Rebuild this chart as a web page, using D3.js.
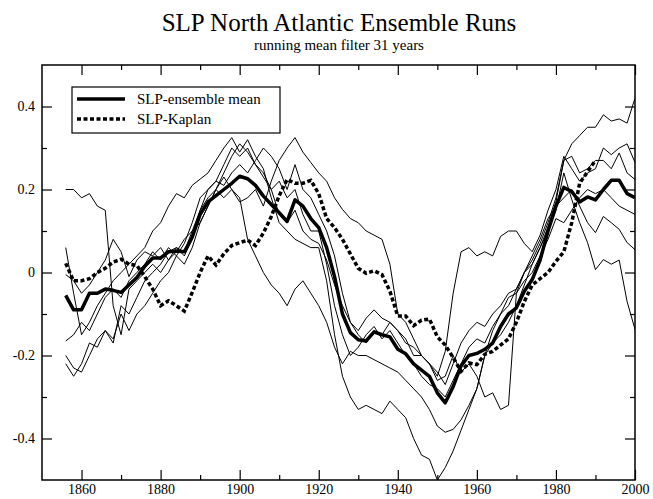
<!DOCTYPE html>
<html lang="en">
<head>
<meta charset="UTF-8">
<title>SLP North Atlantic Ensemble Runs</title>
<script src="https://cdn.jsdelivr.net/npm/d3@7"></script>
<style>
  body { margin: 0; background: #fff; }
  text { font-family: "Liberation Serif", "Times New Roman", serif; }
</style>
</head>
<body>
<script>
// years of the 31-year running mean (every 2nd year)
var years = [1856,1858,1860,1862,1864,1866,1868,1870,1872,1874,
             1876,1878,1880,1882,1884,1886,1888,1890,1892,1894,
             1896,1898,1900,1902,1904,1906,1908,1910,1912,1914,
             1916,1918,1920,1922,1924,1926,1928,1930,1932,1934,
             1936,1938,1940,1942,1944,1946,1948,1950,1952,1954,
             1956,1958,1960,1962,1964,1966,1968,1970,1972,1974,
             1976,1978,1980,1982,1984,1986,1988,1990,1992,1994,
             1996,1998,2000];

// ensemble mean (thick)
var ensembleMean = [-0.055,-0.09,-0.09,-0.05,-0.05,-0.04,-0.043,-0.048,-0.03,-0.012,
                    0.015,0.035,0.035,0.05,0.052,0.05,0.085,0.14,0.17,0.185,
                    0.2,0.215,0.232,0.226,0.21,0.184,0.164,0.144,0.123,0.175,
                    0.16,0.13,0.108,0.06,-0.01,-0.1,-0.145,-0.162,-0.165,-0.143,
                    -0.15,-0.155,-0.185,-0.196,-0.22,-0.235,-0.25,-0.29,-0.314,-0.275,
                    -0.225,-0.2,-0.195,-0.185,-0.17,-0.13,-0.1,-0.085,-0.045,-0.017,
                    0.03,0.1,0.16,0.205,0.195,0.17,0.182,0.175,0.2,0.222,
                    0.222,0.19,0.18];

// Kaplan reconstruction (dashed), ends 1990
var kaplan = [0.022,-0.02,-0.02,-0.015,0.0,0.01,0.025,0.032,0.02,0.017,
              -0.01,-0.04,-0.08,-0.068,-0.08,-0.093,-0.048,0.0,0.04,0.018,
              0.045,0.065,0.072,0.078,0.065,0.095,0.135,0.185,0.224,0.215,
              0.215,0.222,0.19,0.13,0.108,0.08,0.045,0.01,-0.002,0.004,
              -0.005,-0.045,-0.105,-0.105,-0.128,-0.115,-0.112,-0.155,-0.175,-0.205,
              -0.238,-0.218,-0.222,-0.197,-0.19,-0.175,-0.16,-0.12,-0.07,-0.03,
              -0.015,0.0,0.027,0.05,0.12,0.215,0.243,0.27,null,null,
              null,null,null];

// single ensemble runs (thin)
var run1 = [0.20,0.20,0.18,0.19,0.16,0.15,-0.08,-0.15,-0.04,-0.02,
            0.00,0.02,0.00,0.03,0.06,0.05,0.10,0.15,0.20,0.22,
            0.26,0.30,0.28,0.30,0.26,0.23,0.20,0.22,0.18,0.20,
            0.14,0.10,0.10,0.02,-0.08,-0.15,-0.20,-0.18,-0.15,-0.13,
            -0.16,-0.14,-0.17,-0.20,-0.22,-0.25,-0.27,-0.28,-0.30,-0.26,
            -0.22,-0.18,-0.16,-0.17,-0.13,-0.10,-0.06,-0.05,0.00,0.02,
            0.06,0.11,0.17,0.27,0.31,0.33,0.35,0.35,0.38,0.365,
            0.37,0.36,0.42];
var run2 = [0.06,-0.05,-0.15,-0.12,-0.08,-0.05,-0.02,0.00,0.02,0.04,
            0.06,0.10,0.12,0.16,0.19,0.18,0.21,0.225,0.24,0.27,
            0.30,0.325,0.29,0.32,0.28,0.25,0.18,0.12,0.10,0.08,
            0.07,0.06,0.06,-0.02,-0.15,-0.25,-0.30,-0.33,-0.32,-0.33,
            -0.34,-0.31,-0.33,-0.35,-0.40,-0.44,-0.45,-0.50,-0.47,-0.43,
            -0.38,-0.33,-0.28,-0.20,-0.14,-0.10,-0.08,-0.04,0.00,0.04,
            0.08,0.13,0.16,0.18,0.20,0.16,0.12,0.096,0.135,0.12,
            0.104,0.072,0.055];
var run3 = [-0.005,-0.02,-0.05,-0.03,0.00,0.03,0.08,0.05,-0.01,0.03,
            0.05,0.04,0.06,0.03,0.05,0.08,0.10,0.12,0.16,0.20,
            0.18,0.20,0.17,0.18,0.20,0.16,0.22,0.27,0.30,0.325,
            0.29,0.265,0.24,0.22,0.18,0.152,0.13,0.12,0.10,0.09,
            0.08,0.02,-0.10,-0.12,-0.16,-0.20,-0.22,-0.25,-0.19,-0.05,
            0.05,0.06,0.04,0.05,0.04,0.087,0.10,0.10,0.07,0.05,
            0.09,0.15,0.20,0.28,0.25,0.22,0.24,0.25,0.30,0.284,
            0.30,0.31,0.265];
var run4 = [-0.20,-0.23,-0.24,-0.20,-0.16,-0.14,-0.17,-0.08,-0.10,-0.06,
            -0.02,0.00,0.02,0.05,0.06,0.04,0.08,0.15,0.18,0.20,
            0.23,0.20,0.18,0.08,0.04,0.00,-0.03,-0.05,-0.08,-0.04,
            -0.02,-0.05,-0.08,-0.12,-0.18,-0.22,-0.19,-0.20,-0.20,-0.21,
            -0.22,-0.23,-0.24,-0.26,-0.28,-0.30,-0.33,-0.37,-0.385,-0.378,
            -0.355,-0.32,-0.28,-0.20,-0.17,-0.15,-0.12,-0.08,-0.03,0.02,
            0.06,0.10,0.15,0.24,0.176,0.12,0.072,0.007,0.031,0.02,
            0.03,-0.07,-0.137];
var run5 = [-0.22,-0.25,-0.22,-0.17,-0.18,-0.14,-0.16,-0.10,-0.14,-0.10,
            -0.08,-0.05,-0.02,0.00,0.04,0.02,0.06,0.12,0.16,0.20,
            0.24,0.28,0.31,0.29,0.26,0.24,0.20,0.14,0.12,0.15,
            0.10,0.08,0.07,0.03,-0.03,-0.08,-0.12,-0.14,-0.11,-0.09,
            -0.11,-0.12,-0.14,-0.16,-0.20,-0.20,-0.22,-0.26,-0.25,-0.20,
            -0.24,-0.22,-0.25,-0.30,-0.29,-0.33,-0.32,-0.05,-0.02,0.00,
            0.04,0.08,0.13,0.12,0.15,0.18,0.20,0.19,0.20,0.18,
            0.16,0.15,0.14];
var run6 = [-0.165,-0.15,-0.12,-0.14,-0.10,-0.06,-0.04,-0.06,-0.02,0.00,
            0.02,0.05,0.03,0.06,0.04,0.07,0.12,0.18,0.20,0.22,
            0.21,0.24,0.26,0.24,0.27,0.30,0.28,0.25,0.20,0.26,
            0.20,0.18,0.14,0.10,0.04,-0.05,-0.12,-0.15,-0.17,-0.14,
            -0.15,-0.12,-0.14,-0.17,-0.18,-0.20,-0.22,-0.24,-0.27,-0.22,
            -0.17,-0.14,-0.12,-0.13,-0.10,-0.08,-0.05,-0.04,0.00,0.03,
            0.07,0.12,0.18,0.27,0.28,0.24,0.25,0.27,0.27,0.25,
            0.288,0.24,0.224];
var runs = [run1, run2, run3, run4, run5, run6];

// axis ticks
var xLabelTicks = [1860, 1880, 1900, 1920, 1940, 1960, 1980, 2000];
var xMinorTicks = [1870, 1890, 1910, 1930, 1950, 1970, 1990];
var yLabelTicks = [-0.4, -0.2, 0, 0.2, 0.4];
var yMinorTicks = [-0.3, -0.1, 0.1, 0.3];

var legendNames = ["SLP-ensemble mean", "SLP-Kaplan"];

var width = 653, height = 499;
var margin = {top: 65, right: 18, bottom: 19, left: 42};
var plotW = width - margin.left - margin.right;
var plotH = height - margin.top - margin.bottom;

var svg = d3.select("body").append("svg")
    .attr("width", width)
    .attr("height", height);

// titles
svg.append("text")
    .attr("x", 339).attr("y", 31)
    .attr("text-anchor", "middle")
    .attr("font-size", "25px")
    .text("SLP North Atlantic Ensemble Runs");
svg.append("text")
    .attr("x", 339).attr("y", 50)
    .attr("text-anchor", "middle")
    .attr("font-size", "15px")
    .text("running mean filter 31 years");

var g = svg.append("g")
    .attr("transform", "translate(" + margin.left + "," + margin.top + ")");

var x = d3.scaleLinear().domain([1850, 2000]).range([0, plotW]);
var y = d3.scaleLinear().domain([-0.5, 0.5]).range([plotH, 0]);

g.append("clipPath").attr("id", "plotclip")
  .append("rect").attr("width", plotW).attr("height", plotH);

// axes: ticks point inward on all four sides
function styleAxis(sel) {
    sel.select(".domain").remove();
    sel.selectAll("line").attr("stroke", "#000").attr("stroke-width", 1.2);
    sel.selectAll("text").attr("font-size", "14px").attr("fill", "#000")
        .attr("font-family", "'Liberation Serif', 'Times New Roman', serif");
}
var yFmt = function (d) { return d === 0 ? "0" : String(d); };

g.append("g").attr("transform", "translate(0," + plotH + ")")
    .call(d3.axisBottom(x).tickValues(xLabelTicks).tickSize(-10).tickPadding(4).tickFormat(d3.format("d")))
    .call(styleAxis);
g.append("g").attr("transform", "translate(0," + plotH + ")")
    .call(d3.axisBottom(x).tickValues(xMinorTicks).tickSize(-5).tickFormat(""))
    .call(styleAxis);
g.append("g")
    .call(d3.axisTop(x).tickValues(xLabelTicks).tickSize(-10).tickFormat(""))
    .call(styleAxis);
g.append("g")
    .call(d3.axisTop(x).tickValues(xMinorTicks).tickSize(-5).tickFormat(""))
    .call(styleAxis);

g.append("g")
    .call(d3.axisLeft(y).tickValues(yLabelTicks).tickSize(-10).tickPadding(7).tickFormat(yFmt))
    .call(styleAxis);
g.append("g")
    .call(d3.axisLeft(y).tickValues(yMinorTicks).tickSize(-5).tickFormat(""))
    .call(styleAxis);
g.append("g").attr("transform", "translate(" + plotW + ",0)")
    .call(d3.axisRight(y).tickValues(yLabelTicks).tickSize(-10).tickFormat(""))
    .call(styleAxis);
g.append("g").attr("transform", "translate(" + plotW + ",0)")
    .call(d3.axisRight(y).tickValues(yMinorTicks).tickSize(-5).tickFormat(""))
    .call(styleAxis);

var line = d3.line()
    .defined(function (d) { return d != null; })
    .x(function (d, i) { return x(years[i]); })
    .y(function (d) { return y(d); });

var lines = g.append("g").attr("clip-path", "url(#plotclip)");

lines.selectAll(".run")
    .data(runs)
    .enter()
    .append("path")
    .attr("class", "run")
    .attr("d", line)
    .attr("fill", "none")
    .attr("stroke", "#000")
    .attr("stroke-width", 1);

lines.append("path")
    .attr("d", line(kaplan))
    .attr("fill", "none")
    .attr("stroke", "#000")
    .attr("stroke-width", 3.5)
    .attr("stroke-dasharray", "4,2.5");

lines.append("path")
    .attr("d", line(ensembleMean))
    .attr("fill", "none")
    .attr("stroke", "#000")
    .attr("stroke-width", 3.5)
    .attr("stroke-linejoin", "round");

// frame
g.append("rect")
    .attr("width", plotW).attr("height", plotH)
    .attr("fill", "none")
    .attr("stroke", "#000")
    .attr("stroke-width", 1.5);

// legend
var legend = g.append("g").attr("transform", "translate(30,22)");
legend.append("rect")
    .attr("width", 208).attr("height", 46)
    .attr("fill", "#fff").attr("stroke", "#000").attr("stroke-width", 1.2);
var items = legend.selectAll(".item")
    .data(legendNames)
    .enter()
    .append("g")
    .attr("transform", function (d, i) { return "translate(0," + (12 + i * 20) + ")"; });
items.append("line")
    .attr("x1", 5).attr("x2", 53)
    .attr("stroke", "#000").attr("stroke-width", 3.5)
    .attr("stroke-dasharray", function (d, i) { return i === 1 ? "4,2.5" : null; });
items.append("text")
    .attr("x", 65).attr("dy", "0.35em")
    .attr("font-size", "15px")
    .text(function (d) { return d; });
</script>
</body>
</html>
